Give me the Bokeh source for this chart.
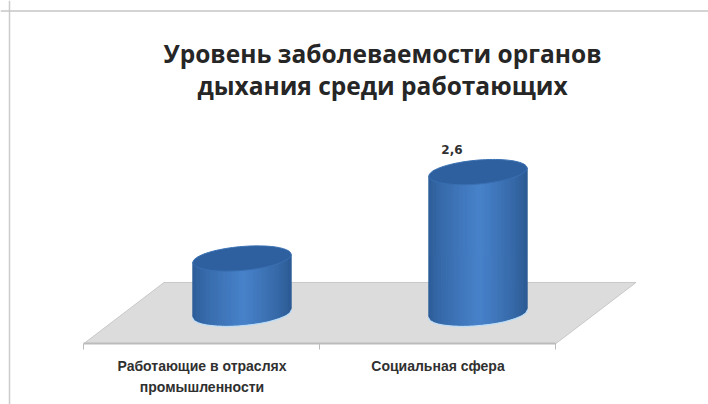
import numpy as np
from bokeh.embed import file_html
from bokeh.models import FixedTicker, Label, LinearAxis, Range1d, Span
from bokeh.plotting import figure
from bokeh.resources import INLINE

title_lines = ["Уровень заболеваемости органов", "дыхания среди работающих"]
categories = ["Работающие в отраслях\nпромышленности", "Социальная сфера"]
values = [1.0, 2.6]
value_labels = ["", "2,6"]

W, H = 708, 404
PX_X, PX_Y = 236.0, 54.0          # pixels per category / per value unit
x0, y0 = 241.5, 312.0             # figure pixel of category 0, value 0
p = figure(width=W, height=H, output_backend="svg", toolbar_location=None,
           x_range=Range1d(-x0 / PX_X, (W - x0) / PX_X),
           y_range=Range1d(-(H - y0) / PX_Y, y0 / PX_Y),
           x_axis_type=None, y_axis_type=None, min_border=0)
p.grid.visible = False
p.outline_line_color = None
p.background_fill_color = "#ffffff"
p.border_fill_color = "#ffffff"

# chart frame
p.add_layout(Span(location=p.x_range.start + 9 / PX_X, dimension="height",
                  line_color="#cccccc", line_width=1.5))
p.add_layout(Span(location=p.y_range.end - 10.5 / PX_Y, dimension="width",
                  line_color="#c6c6c6", line_width=1.5))

# floor of the 3D plot
depth_x, front_y, back_y = 0.339, -0.574, 0.556
edges = [-0.5 - depth_x / 2, 0.5 - depth_x / 2, 1.5 - depth_x / 2]
p.patch([edges[0], edges[2], edges[2] + depth_x, edges[0] + depth_x],
        [front_y, front_y, back_y, back_y],
        fill_color="#dcdcdc", line_color="#c8c8c8", line_width=1)

# category axis along the floor's front edge
axis = LinearAxis(ticker=FixedTicker(ticks=[i - depth_x / 2 for i in range(len(categories))],
                                     minor_ticks=edges),
                  major_label_overrides={i - depth_x / 2: c for i, c in enumerate(categories)},
                  fixed_location=front_y, bounds=(edges[0], edges[2]))
axis.axis_line_color = "#bcbcbc"
axis.axis_line_width = 2
axis.major_tick_line_color = None
axis.major_tick_out = 0
axis.major_tick_in = 0
axis.minor_tick_line_color = "#bcbcbc"
axis.minor_tick_out = 6
axis.minor_tick_in = 0
axis.major_label_standoff = 9
axis.major_label_text_font = "Liberation Sans"
axis.major_label_text_font_style = "bold"
axis.major_label_text_font_size = "14px"
axis.major_label_text_line_height = 1.3
axis.major_label_text_color = "#303030"
axis.major_label_orientation = "horizontal"
p.add_layout(axis, "below")

# cylinders
radius, semi, tilt = 0.208, 0.222, 0.074
us = np.linspace(-1, 1, 41)


def shade(u, left, mid, right):
    a, b = (left, mid) if u < 0.05 else (right, mid)
    t = (1 - abs(u - 0.05) / 1.05) ** 0.7
    return "#%02x%02x%02x" % tuple(int(a[i] + (b[i] - a[i]) * t) for i in range(3))


for i, v in enumerate(values):
    ang = np.linspace(0, 2 * np.pi, 90)
    low = np.linspace(np.pi, 2 * np.pi, 50)
    p.line(i + radius * np.cos(low), tilt * np.cos(low) + semi * np.sin(low) - 1 / PX_Y,
           line_color="#bcdcf5", line_width=2)

    xs, ys, cs = [], [], []
    for a, b in zip(us[:-1], us[1:]):
        xs.append([i + radius * a, i + radius * b, i + radius * b, i + radius * a])
        ys.append([v + tilt * a, v + tilt * b,
                   tilt * b - semi * np.sqrt(1 - b * b),
                   tilt * a - semi * np.sqrt(1 - a * a)])
        cs.append(shade((a + b) / 2, (44, 92, 150), (72, 130, 202), (38, 82, 136)))
    p.patches(xs, ys, fill_color=cs, line_color=cs, line_width=1.2)

    p.patch(i + radius * np.cos(ang),
            v + tilt * np.cos(ang) + semi * np.sin(ang),
            fill_color="#2e609f", line_color="#3a70b2", line_width=1)
    if value_labels[i]:
        p.text([i], [v], text=[value_labels[i]], x_offset=-26, y_offset=-23,
               text_align="center", text_baseline="middle",
               text_font={"value": "DejaVu Sans"}, text_font_style="bold",
               text_font_size="12px", text_color="#303030")

# title
for line, y in zip(title_lines, [H - 53, H - 85]):
    p.add_layout(Label(x=382, y=y, x_units="screen", y_units="screen", text=line,
                       text_align="center", text_baseline="middle",
                       text_font="Open Sans", text_font_style="bold",
                       text_font_size="24.5px", text_color="#262626"))

open("out.html", "w").write(file_html(p, INLINE))
